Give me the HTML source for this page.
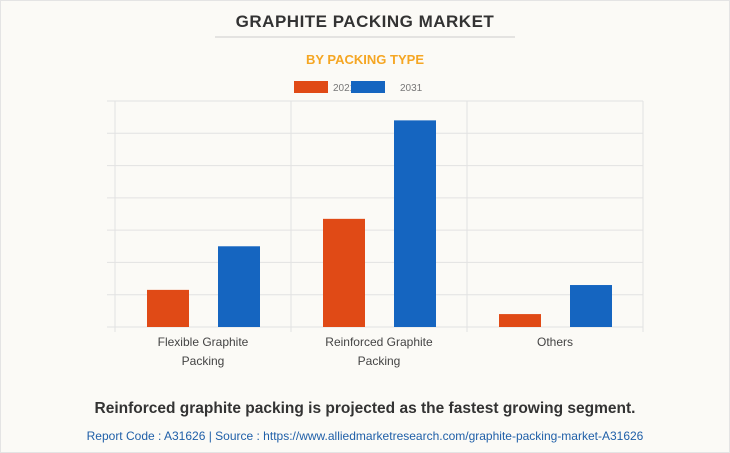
<!DOCTYPE html>
<html><head><meta charset="utf-8"><style>
body{margin:0;width:730px;height:453px;background:#fbfaf6;font-family:"Liberation Sans",sans-serif;overflow:hidden}
.frame{position:absolute;left:0;top:0;width:728px;height:451px;border:1px solid #e4e4e4}
</style></head><body>
<div class="frame"></div>
<svg width="730" height="453" style="position:absolute;left:0;top:0">
<text x="365" y="27" text-anchor="middle" font-size="17" font-weight="bold" fill="#333" letter-spacing="0.5">GRAPHITE PACKING MARKET</text>
<line x1="215" y1="37" x2="515" y2="37" stroke="#ccc"/>
<text x="365" y="64" text-anchor="middle" font-size="13" font-weight="bold" fill="#f5a623">BY PACKING TYPE</text>
<g>
<rect x="294" y="81" width="34" height="12" fill="#e04a16"/>
<text x="333" y="91" font-size="10" fill="#777">2021</text>
<rect x="351" y="81" width="34" height="12" fill="#1565c0"/>
<text x="400" y="91" font-size="10" fill="#777">2031</text>
</g>
<g id="plot"></g>
<text x="365" y="413" text-anchor="middle" font-size="15.5" font-weight="bold" fill="#333">Reinforced graphite packing is projected as the fastest growing segment.</text>
<text x="365" y="440" text-anchor="middle" font-size="12" fill="#1f5fa8">Report Code : A31626  |  Source : https://www.alliedmarketresearch.com/graphite-packing-market-A31626</text>
</svg>
<script>
const categories=[["Flexible Graphite","Packing"],["Reinforced Graphite","Packing"],["Others"]];
const series2021=[1.15,3.35,0.4];
const series2031=[2.5,6.4,1.3];
const yMax=7, gridCount=7;
const L=115,R=643,T=101,B=327;
const ns="http://www.w3.org/2000/svg";
const g=document.getElementById('plot');
const y=v=>B-(v/yMax)*(B-T);
const bandW=(R-L)/categories.length;
function mk(t,a){const e=document.createElementNS(ns,t);for(const k in a)e.setAttribute(k,a[k]);g.appendChild(e);return e;}
for(let i=0;i<=gridCount;i++){
 const l=mk('line',{x1:107,x2:R,y1:y(i*yMax/gridCount),y2:y(i*yMax/gridCount),stroke:'#e2e2e2'});
 
 
}
for(let i=0;i<=categories.length;i++){
 const l=mk('line',{x1:L+i*bandW,x2:L+i*bandW,y1:T,y2:B+5,stroke:'#e2e2e2'});
 
 
}
categories.forEach((c,i)=>{
 const cx=L+bandW*(i+0.5);
 const b1=mk('rect',{x:cx-56,y:y(series2021[i]),width:42,height:B-y(series2021[i]),fill:'#e04a16'});
 
 
 const b2=mk('rect',{x:cx+15,y:y(series2031[i]),width:42,height:B-y(series2031[i]),fill:'#1565c0'});
 
 
 c.forEach((line,j)=>{
  const t=mk('text',{x:cx,y:346+j*19,'text-anchor':'middle','font-size':12,fill:'#444'});
  t.textContent=line;
  
  
 });
});
</script>
</body></html>
